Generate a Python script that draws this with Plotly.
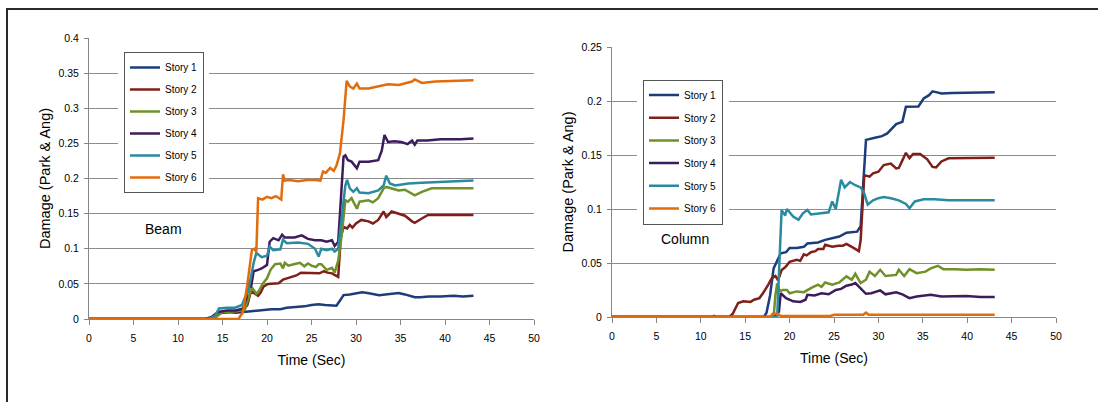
import plotly.graph_objects as go

W, H = 1098, 402

STORIES = ["Story 1", "Story 2", "Story 3", "Story 4", "Story 5", "Story 6"]
COLORS = ["#1c3c7c", "#7f1f1a", "#6f9128", "#3d1c5c", "#2a8aa0", "#e36c0a"]

# ---------------- Beam damage index (Park & Ang) ----------------
beam_t1 = [0, 13.0, 13.5, 14.2, 14.6, 15.5, 16.5, 17.3, 17.8, 18.5, 19.5, 20.5, 21.5, 22.2, 23.2, 24.2,
           25.0, 25.8, 26.5, 27.4, 27.8, 28.3, 28.6, 29.3, 30.0, 30.7, 31.3, 32.0, 32.6, 33.3, 34.0, 34.8,
           35.5, 36.2, 36.6, 37.2, 38.2, 39.5, 41.0, 42.0, 43.2]
beam_d1 = [0, 0, 0.002, 0.004, 0.008, 0.010, 0.009, 0.010, 0.011, 0.012, 0.013, 0.014, 0.014, 0.016, 0.017,
           0.018, 0.020, 0.021, 0.020, 0.020, 0.019, 0.028, 0.034, 0.035, 0.036, 0.038, 0.037, 0.035, 0.034,
           0.035, 0.036, 0.037, 0.035, 0.032, 0.031, 0.031, 0.032, 0.032, 0.033, 0.032, 0.033]

beam_t2 = [0, 13.8, 14.5, 15.5, 16.5, 17.3, 17.8, 18.2, 18.6, 19.0, 19.3, 19.6, 20.1, 20.6, 21.3, 21.8,
           22.3, 22.8, 23.3, 23.8, 24.5, 25.2, 25.9, 26.4, 26.8, 27.3, 27.8, 28.0, 28.3, 28.6, 29.0, 29.3,
           29.6, 30.0, 30.6, 31.4, 31.9, 32.5, 33.1, 33.4, 34.0, 34.8, 35.5, 36.3, 36.6, 37.4, 38.1, 39.0, 43.2]
beam_d2 = [0, 0, 0.008, 0.010, 0.011, 0.012, 0.020, 0.040, 0.036, 0.033, 0.038, 0.046, 0.050, 0.050, 0.051,
           0.056, 0.058, 0.060, 0.062, 0.066, 0.066, 0.066, 0.065, 0.068, 0.066, 0.065, 0.062, 0.060, 0.117,
           0.131, 0.129, 0.134, 0.130, 0.136, 0.141, 0.139, 0.136, 0.141, 0.153, 0.145, 0.153, 0.150, 0.147,
           0.139, 0.137, 0.143, 0.148, 0.148, 0.148]

beam_t3 = [0, 14.0, 15.0, 16.5, 17.5, 17.9, 18.3, 18.8, 19.1, 19.5, 20.0, 20.4, 20.9, 21.5, 21.8, 22.0,
           22.4, 23.0, 23.7, 24.2, 24.6, 25.0, 25.5, 25.8, 26.1, 26.7, 27.3, 27.6, 28.0, 28.4, 28.8, 29.1,
           29.5, 30.1, 30.4, 31.4, 31.9, 32.5, 33.1, 33.4, 34.0, 34.8, 35.5, 36.3, 36.6, 37.4, 38.5, 40.4, 43.2]
beam_d3 = [0, 0, 0.010, 0.011, 0.013, 0.030, 0.045, 0.036, 0.040, 0.050, 0.058, 0.070, 0.078, 0.079, 0.072,
           0.080, 0.076, 0.078, 0.080, 0.075, 0.079, 0.076, 0.074, 0.078, 0.078, 0.070, 0.073, 0.066, 0.083,
           0.120, 0.169, 0.167, 0.172, 0.157, 0.167, 0.169, 0.166, 0.172, 0.186, 0.188, 0.186, 0.183, 0.184,
           0.179, 0.176, 0.181, 0.186, 0.186, 0.186]

beam_t4 = [0, 13.5, 14.5, 15.5, 16.5, 17.3, 17.7, 17.9, 18.2, 18.5, 19.0, 19.4, 20.0, 20.3, 20.7, 21.3,
           21.7, 22.0, 23.1, 23.9, 24.6, 25.4, 26.1, 26.7, 27.3, 27.6, 28.0, 28.3, 28.6, 28.8, 29.1, 29.5,
           30.1, 30.4, 31.4, 32.5, 32.9, 33.2, 33.6, 34.3, 35.1, 35.8, 36.3, 36.6, 36.9, 38.0, 39.5, 41.7, 43.2]
beam_d4 = [0, 0, 0.010, 0.012, 0.012, 0.015, 0.030, 0.052, 0.045, 0.068, 0.070, 0.072, 0.077, 0.110, 0.115,
           0.112, 0.120, 0.116, 0.116, 0.119, 0.114, 0.112, 0.112, 0.110, 0.112, 0.104, 0.110, 0.180, 0.231,
           0.233, 0.226, 0.224, 0.2145, 0.224, 0.224, 0.226, 0.240, 0.262, 0.252, 0.253, 0.252, 0.249, 0.254,
           0.248, 0.254, 0.254, 0.256, 0.256, 0.257]

beam_t5 = [0, 13.5, 14.2, 14.6, 15.5, 16.4, 17.2, 17.5, 17.9, 18.2, 18.5, 18.8, 19.4, 20.0, 20.3, 20.7,
           21.5, 21.8, 22.2, 23.5, 24.6, 25.4, 25.8, 26.1, 26.7, 27.3, 27.6, 28.0, 28.4, 28.8, 29.0, 29.3,
           29.7, 30.1, 30.4, 31.4, 32.5, 33.1, 33.4, 33.8, 34.4, 35.9, 37.4, 38.9, 41.7, 43.2]
beam_d5 = [0, 0, 0.005, 0.015, 0.016, 0.016, 0.020, 0.030, 0.040, 0.060, 0.080, 0.094, 0.088, 0.090, 0.103,
           0.098, 0.099, 0.113, 0.108, 0.109, 0.107, 0.100, 0.089, 0.100, 0.098, 0.100, 0.096, 0.100, 0.150,
           0.190, 0.198, 0.186, 0.181, 0.186, 0.180, 0.179, 0.183, 0.190, 0.204, 0.193, 0.190, 0.193, 0.194,
           0.195, 0.197, 0.197]

beam_t6 = [0, 16.8, 17.3, 17.8, 18.3, 18.6, 18.8, 19.0, 19.5, 20.0, 20.5, 21.0, 21.6, 21.8, 22.0, 22.5,
           23.5, 24.5, 25.4, 26.0, 26.3, 26.6, 27.1, 27.5, 27.8, 28.2, 28.6, 28.95, 29.3, 29.7, 30.1, 30.4,
           31.4, 32.9, 33.6, 34.8, 36.3, 36.6, 37.4, 38.9, 40.4, 43.2]
beam_d6 = [0, 0, 0.010, 0.050, 0.098, 0.100, 0.095, 0.172, 0.170, 0.174, 0.172, 0.175, 0.170, 0.206, 0.197,
           0.198, 0.196, 0.198, 0.198, 0.197, 0.210, 0.208, 0.215, 0.211, 0.218, 0.236, 0.283, 0.339, 0.331,
           0.328, 0.335, 0.328, 0.328, 0.332, 0.334, 0.333, 0.338, 0.341, 0.336, 0.338, 0.339, 0.340]

# ---------------- Column damage index (Park & Ang) ----------------
col_t1 = [0, 17.1, 17.4, 17.8, 18.2, 18.6, 19.0, 19.6, 20.0, 20.8, 21.6, 22.0, 23.2, 24.0, 24.8, 25.6,
          26.4, 27.6, 28.0, 28.2, 28.4, 28.6, 29.6, 30.4, 31.0, 31.5, 32.0, 32.7, 33.1, 34.5, 35.1, 35.7,
          36.1, 36.6, 37.1, 38.3, 43.1]
col_d1 = [0, 0, 0.004, 0.020, 0.045, 0.052, 0.059, 0.060, 0.064, 0.064, 0.065, 0.068, 0.069, 0.0714, 0.073,
          0.0745, 0.078, 0.079, 0.084, 0.108, 0.139, 0.164, 0.166, 0.1675, 0.170, 0.1746, 0.1786, 0.1807,
          0.1946, 0.195, 0.2023, 0.2054, 0.209, 0.208, 0.207, 0.2075, 0.208]

col_t2 = [0, 11.3, 11.5, 11.7, 13.2, 13.6, 14.2, 14.8, 15.6, 16.0, 16.6, 17.0, 17.6, 18.0, 18.4, 18.7,
          19.1, 19.5, 20.0, 20.8, 21.2, 21.6, 21.9, 22.4, 22.9, 23.2, 23.8, 24.0, 24.8, 25.5, 26.0, 26.4,
          27.2, 27.8, 28.0, 28.2, 28.4, 28.6, 29.0, 29.4, 30.0, 30.6, 31.4, 32.0, 32.3, 32.7, 33.1, 33.5,
          33.9, 34.7, 35.5, 36.1, 36.5, 37.1, 37.9, 43.1]
col_d2 = [0, 0, 0.001, 0, 0, 0.003, 0.013, 0.0145, 0.014, 0.016, 0.0175, 0.022, 0.030, 0.036, 0.038, 0.034,
          0.0435, 0.046, 0.051, 0.053, 0.052, 0.058, 0.057, 0.060, 0.061, 0.063, 0.063, 0.0668, 0.065, 0.066,
          0.066, 0.0677, 0.064, 0.061, 0.071, 0.100, 0.130, 0.131, 0.130, 0.133, 0.1345, 0.1407, 0.142,
          0.1376, 0.138, 0.145, 0.152, 0.147, 0.151, 0.151, 0.146, 0.139, 0.1385, 0.144, 0.147, 0.1475]

col_t3 = [0, 18.2, 18.4, 18.6, 18.9, 19.2, 19.7, 20.0, 20.8, 21.6, 22.4, 23.2, 23.6, 24.0, 24.8, 25.6,
          26.4, 27.0, 27.4, 28.0, 28.6, 29.0, 29.6, 30.2, 30.8, 32.0, 32.3, 32.9, 33.5, 34.3, 35.3, 35.9,
          36.7, 37.3, 38.7, 39.9, 41.5, 43.1]
col_d3 = [0, 0, 0.020, 0.031, 0.024, 0.025, 0.025, 0.022, 0.0237, 0.023, 0.0268, 0.030, 0.028, 0.032, 0.030,
          0.032, 0.0376, 0.0345, 0.040, 0.0314, 0.0345, 0.042, 0.038, 0.0437, 0.038, 0.039, 0.0437, 0.038,
          0.0443, 0.0406, 0.042, 0.045, 0.0474, 0.0443, 0.0443, 0.0437, 0.0443, 0.0437]

col_t4 = [0, 18.4, 18.8, 19.0, 19.6, 20.4, 21.2, 21.8, 22.0, 22.8, 23.6, 24.4, 25.2, 25.8, 26.4, 27.0,
          27.4, 28.0, 28.6, 29.2, 30.2, 30.8, 32.0, 32.7, 33.5, 34.3, 35.9, 37.1, 38.3, 39.9, 41.5, 43.1]
col_d4 = [0, 0, 0.005, 0.022, 0.0175, 0.0145, 0.014, 0.016, 0.0206, 0.020, 0.022, 0.021, 0.025, 0.026,
          0.029, 0.030, 0.0314, 0.0268, 0.0215, 0.022, 0.0246, 0.021, 0.0228, 0.021, 0.0175, 0.019, 0.0206,
          0.019, 0.019, 0.0195, 0.0185, 0.0185]

col_t5 = [0, 18.6, 18.9, 19.1, 19.5, 19.7, 20.4, 21.0, 21.5, 22.0, 22.4, 23.2, 24.4, 24.8, 25.2, 25.8,
          26.2, 26.8, 27.4, 28.0, 28.4, 28.8, 29.4, 30.0, 30.6, 31.4, 32.3, 33.1, 33.5, 34.1, 35.1, 36.3,
          37.9, 39.9, 43.1]
col_d5 = [0, 0, 0.060, 0.099, 0.094, 0.100, 0.093, 0.090, 0.096, 0.099, 0.095, 0.096, 0.097, 0.107, 0.100,
          0.127, 0.120, 0.125, 0.122, 0.120, 0.1145, 0.104, 0.108, 0.110, 0.111, 0.110, 0.108, 0.1047, 0.1007,
          0.107, 0.109, 0.109, 0.108, 0.108, 0.108]

col_t6 = [0, 17.8, 18.1, 18.6, 19.0, 24.6, 25.0, 28.3, 28.6, 28.9, 43.1]
col_d6 = [0, 0, 0.003, 0.003, 0.001, 0.001, 0.002, 0.002, 0.004, 0.002, 0.002]

beam_series = [(beam_t1, beam_d1), (beam_t2, beam_d2), (beam_t3, beam_d3),
               (beam_t4, beam_d4), (beam_t5, beam_d5), (beam_t6, beam_d6)]
col_series = [(col_t1, col_d1), (col_t2, col_d2), (col_t3, col_d3),
              (col_t4, col_d4), (col_t5, col_d5), (col_t6, col_d6)]

for t, d in beam_series + col_series:
    assert len(t) == len(d)

FONT = "Arial, 'Liberation Sans', sans-serif"

fig = go.Figure()
for i, (t, d) in enumerate(beam_series):
    fig.add_trace(go.Scatter(x=t, y=d, mode="lines", name=STORIES[i],
                             line=dict(color=COLORS[i], width=2.5),
                             xaxis="x", yaxis="y", legend="legend",
                             legendgroup="b%d" % i))
for i, (t, d) in enumerate(col_series):
    fig.add_trace(go.Scatter(x=t, y=d, mode="lines", name=STORIES[i],
                             line=dict(color=COLORS[i], width=2.5),
                             xaxis="x2", yaxis="y2", legend="legend2",
                             legendgroup="c%d" % i))


def px(v):
    return v / W


def py(v):
    return 1 - v / H


AX = dict(showline=True, linecolor="#868686", linewidth=1, ticks="outside", automargin=False,
          tickcolor="#868686", zeroline=False, tickfont=dict(family=FONT, size=10.5, color="#000"))

xaxis_common = dict(AX, range=[0, 50], tick0=0, dtick=5, showgrid=False, ticklen=5,
                    ticklabelstandoff=4,
                    title=dict(text="Time (Sec)", font=dict(family=FONT, size=14, color="#000"),
                               standoff=12))
yaxis_common = dict(AX, showgrid=True, gridcolor="#8c8c8c", gridwidth=1, ticklen=4,
                    ticklabelstandoff=3,
                    title=dict(text="Damage (Park & Ang)",
                               font=dict(family=FONT, size=14.5, color="#000"), standoff=4))

legend_common = dict(bgcolor="white", bordercolor="#555555", borderwidth=1,
                     font=dict(family=FONT, size=10, color="#000"),
                     xanchor="left", yanchor="top", traceorder="grouped")

fig.update_layout(
    width=W, height=H,
    margin=dict(l=0, r=0, t=0, b=0, pad=0, autoexpand=False),
    paper_bgcolor="white", plot_bgcolor="white",
    xaxis=dict(xaxis_common, domain=[px(89), px(534)], anchor="y"),
    yaxis=dict(yaxis_common, domain=[py(319), py(38)], anchor="x", range=[0, 0.4], dtick=0.05),
    xaxis2=dict(xaxis_common, domain=[px(612), px(1056)], anchor="y2"),
    yaxis2=dict(yaxis_common, domain=[py(317), py(47)], anchor="x2", range=[0, 0.25], dtick=0.05),
    legend=dict(legend_common, x=px(124), y=py(52), tracegroupgap=3),
    legend2=dict(legend_common, x=px(643), y=py(79.5), tracegroupgap=3.7),
    annotations=[
        dict(text="Beam", x=px(163), y=py(229), xref="paper", yref="paper", showarrow=False,
             xanchor="center", yanchor="middle",
             font=dict(family=FONT, size=14, color="#000")),
        dict(text="Column", x=px(685), y=py(239), xref="paper", yref="paper", showarrow=False,
             xanchor="center", yanchor="middle",
             font=dict(family=FONT, size=14, color="#000")),
    ],
    shapes=[
        # white margins around the legend boxes
        dict(type="rect", xref="paper", yref="paper", x0=px(118), x1=px(209), y0=py(197), y1=py(47),
             fillcolor="white", line=dict(width=0), layer="above"),
        dict(type="rect", xref="paper", yref="paper", x0=px(637), x1=px(729), y0=py(228), y1=py(74),
             fillcolor="white", line=dict(width=0), layer="above"),
        # outer frame (right and bottom edges run past the page)
        dict(type="rect", xref="paper", yref="paper", x0=px(7), x1=px(1104), y0=py(408), y1=py(9),
             fillcolor="rgba(0,0,0,0)", line=dict(color="#2a2a2a", width=2), layer="above"),
    ],
)

fig.write_html("out.html")
